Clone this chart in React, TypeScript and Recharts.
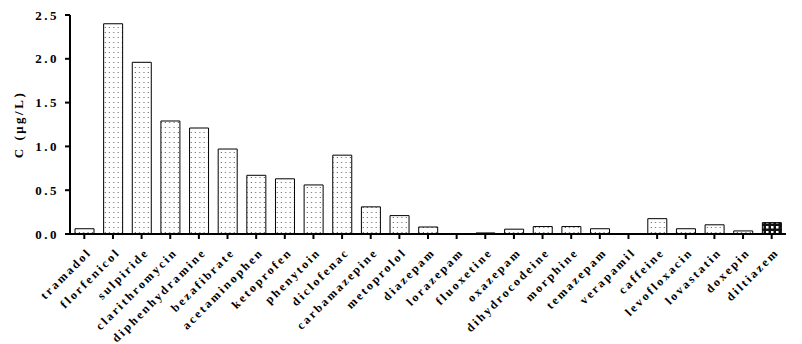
import React from "react";
import { BarChart, Bar, XAxis, YAxis, Cell } from "recharts";

const categories = [
  "tramadol", "florfenicol", "sulpiride", "clarithromycin", "diphenhydramine",
  "bezafibrate", "acetaminophen", "ketoprofen", "phenytoin", "diclofenac",
  "carbamazepine", "metoprolol", "diazepam", "lorazepam", "fluoxetine",
  "oxazepam", "dihydrocodeine", "morphine", "temazepam", "verapamil",
  "caffeine", "levofloxacin", "lovastatin", "doxepin", "diltiazem",
];
const concentrations = [
  0.06, 2.4, 1.96, 1.29, 1.21,
  0.97, 0.67, 0.63, 0.56, 0.9,
  0.31, 0.21, 0.08, 0.002, 0.012,
  0.055, 0.085, 0.085, 0.06, 0.002,
  0.175, 0.06, 0.105, 0.035, 0.13,
];
const yTicks = [0, 0.5, 1.0, 1.5, 2.0, 2.5];
const yLabel = "C (μg/L)";
const highlighted = ["diltiazem"];

const data = categories.map((name, i) => ({ name, value: concentrations[i] }));

const FONT = "'Liberation Serif', 'DejaVu Serif', serif";

const XTick = (props: any) => {
  const { x, y, payload } = props;
  return (
    <g transform={`translate(${x + 8},${y + 12})`}>
      <text
        textAnchor="end"
        transform="rotate(-45)"
        fontFamily={FONT}
        fontWeight="bold"
        fontSize={12}
        letterSpacing={2.4}
        fill="#000"
      >
        {payload.value}
      </text>
    </g>
  );
};

const YTick = (props: any) => {
  const { x, y, payload } = props;
  return (
    <text
      x={x - 4}
      y={y + 4.5}
      textAnchor="end"
      fontFamily={FONT}
      fontWeight="bold"
      fontSize={13}
      letterSpacing={2.5}
      fill="#000"
    >
      {Number(payload.value).toFixed(1)}
    </text>
  );
};

export default function App() {
  return (
    <div style={{ position: "absolute", left: 0, top: 0, background: "#fff" }}>
      <BarChart
        width={802}
        height={344}
        data={data}
        margin={{ top: 15, right: 16, left: 0, bottom: 0 }}
      >
        <defs>
          <pattern id="dots" width="4.3" height="5" patternUnits="userSpaceOnUse">
            <rect width="4.3" height="5" fill="#fff" />
            <rect x="1.5" y="2" width="1" height="1" fill="#555" />
          </pattern>
          <pattern id="brick" width="5" height="5" patternUnits="userSpaceOnUse">
            <rect width="5" height="5" fill="#111" />
            <rect x="1" y="1" width="2.5" height="2.5" fill="#fff" />
          </pattern>
        </defs>
        <XAxis
          dataKey="name"
          interval={0}
          height={110}
          tick={<XTick />}
          tickSize={5}
          axisLine={{ stroke: "#000", strokeWidth: 2 }}
          tickLine={{ stroke: "#000", strokeWidth: 2 }}
        />
        <YAxis
          width={70}
          domain={[0, 2.5]}
          ticks={yTicks}
          tick={<YTick />}
          tickSize={5}
          axisLine={{ stroke: "#000", strokeWidth: 2 }}
          tickLine={{ stroke: "#000", strokeWidth: 2 }}
          label={{
            value: yLabel,
            angle: -90,
            position: "insideLeft",
            offset: 18,
            style: {
              fontFamily: FONT,
              fontWeight: "bold",
              fontSize: 13,
              letterSpacing: 2.5,
              fill: "#000",
              textAnchor: "middle",
            },
          }}
        />
        <Bar dataKey="value" barSize={19} stroke="#000" strokeWidth={1} isAnimationActive={false}>
          {data.map((d) => (
            <Cell key={d.name} fill={highlighted.includes(d.name) ? "url(#brick)" : "url(#dots)"} />
          ))}
        </Bar>
      </BarChart>
    </div>
  );
}
